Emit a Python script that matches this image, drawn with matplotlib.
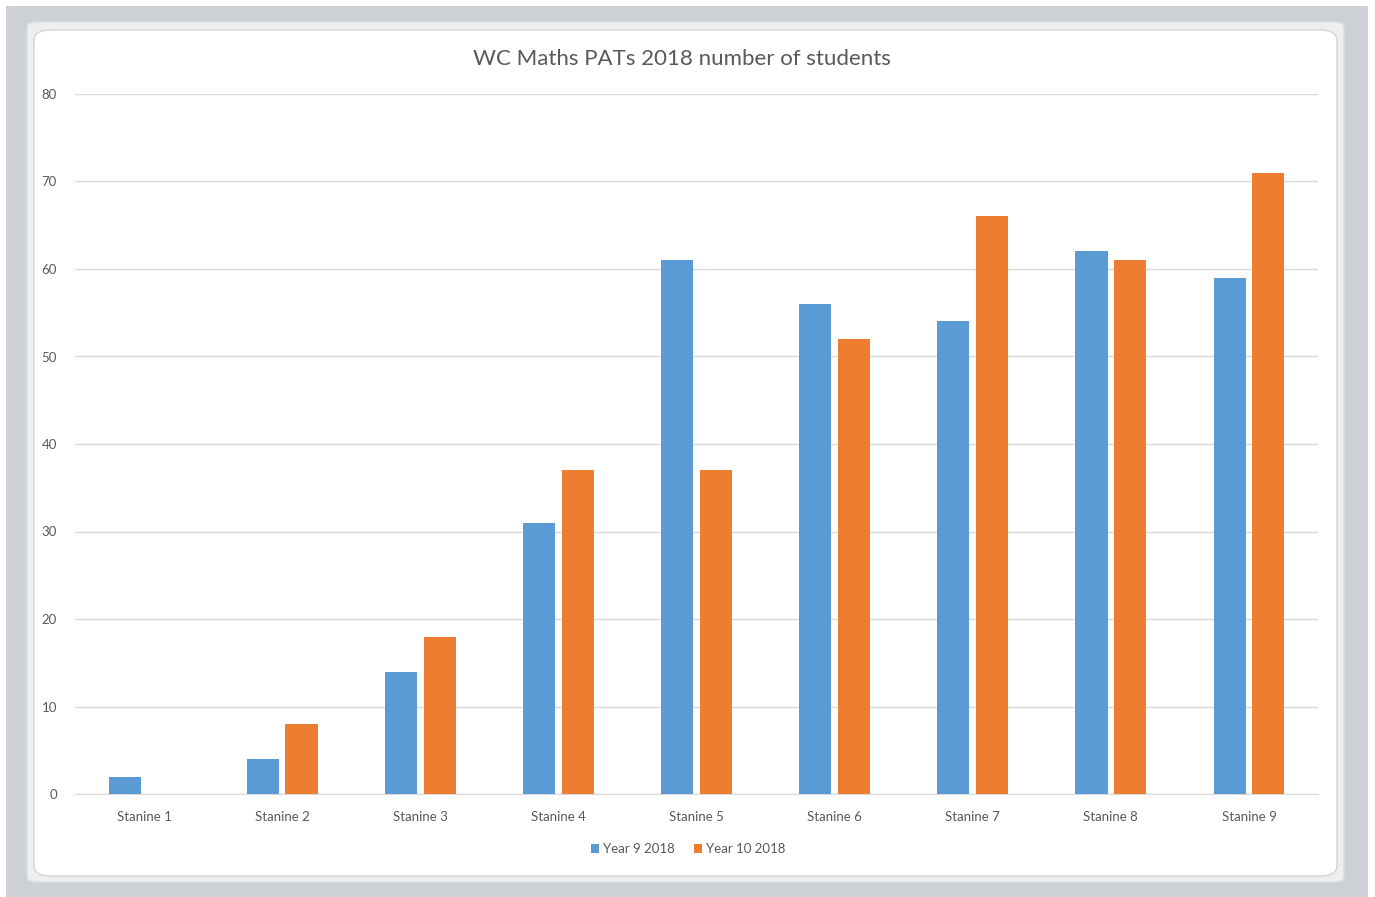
import matplotlib.pyplot as plt
from matplotlib.patches import FancyBboxPatch, Rectangle
import numpy as np

plt.rcParams['font.family'] = ['Lato', 'DejaVu Sans']

categories = ['Stanine 1', 'Stanine 2', 'Stanine 3', 'Stanine 4', 'Stanine 5',
              'Stanine 6', 'Stanine 7', 'Stanine 8', 'Stanine 9']
year9 = [2, 4, 14, 31, 61, 56, 54, 62, 59]
year10 = [0, 8, 18, 37, 37, 52, 66, 61, 71]
series_names = ['Year 9 2018', 'Year 10 2018']
title = 'WC Maths PATs 2018 number of students'

W, H = 1375, 897
fig = plt.figure(figsize=(W / 100, H / 100), dpi=100, facecolor='white')

# grey window background and the chart frame (drawn below the axes)
fig.patches.append(Rectangle((6 / W, 0), 1362 / W, 891 / H, transform=fig.transFigure,
                             facecolor='#cdd1d6', edgecolor='none', zorder=-3))
fig.patches.append(FancyBboxPatch((27 / W, (H - 882) / H), 1317 / W, 860 / H,
                                  boxstyle='round,pad=0,rounding_size=0.006',
                                  transform=fig.transFigure, facecolor='#eeeeee',
                                  edgecolor='#dcdcdc', linewidth=1, zorder=-2))
fig.patches.append(FancyBboxPatch((34 / W, (H - 876) / H), 1303 / W, 846 / H,
                                  boxstyle='round,pad=0,rounding_size=0.012',
                                  transform=fig.transFigure, facecolor='white',
                                  edgecolor='#d4d4d4', linewidth=1, zorder=-1))

ax = fig.add_axes([75 / W, 1 - 794 / H, 1243 / W, 700 / H])
ax.set_facecolor('none')
ax.set_zorder(2)

x = np.arange(len(categories))
bw = 0.232
off = 0.14
ax.bar(x - off, year9, bw, color='#5b9bd5', label=series_names[0], zorder=3)
ax.bar(x + off, year10, bw, color='#ed7d31', label=series_names[1], zorder=3)

ax.set_xlim(-0.5, len(categories) - 0.5)
ax.set_ylim(0, 80)
ax.set_yticks(range(0, 81, 10))
ax.set_xticks(x)
ax.set_xticklabels(categories)
ax.grid(axis='y', color='#d9d9d9', linewidth=1, zorder=0)
for s in ['top', 'right', 'left']:
    ax.spines[s].set_visible(False)
ax.spines['bottom'].set_color('#d9d9d9')
ax.tick_params(axis='both', length=0, colors='#595959', labelsize=9.5)
ax.tick_params(axis='x', pad=12)
ax.tick_params(axis='y', pad=13)

fig.text(682 / W, 1 - 59 / H, title, ha='center', va='center', fontsize=16, color='#595959')

leg = ax.legend(loc='center', bbox_to_anchor=(688 / W, 1 - 849 / H),
                bbox_transform=fig.transFigure, ncol=2, frameon=False,
                fontsize=9.5, handlelength=0.6, handleheight=0.6,
                handletextpad=0.3, columnspacing=1.5)
for t in leg.get_texts():
    t.set_color('#595959')

fig.savefig('out.png', dpi=100, facecolor='white')
